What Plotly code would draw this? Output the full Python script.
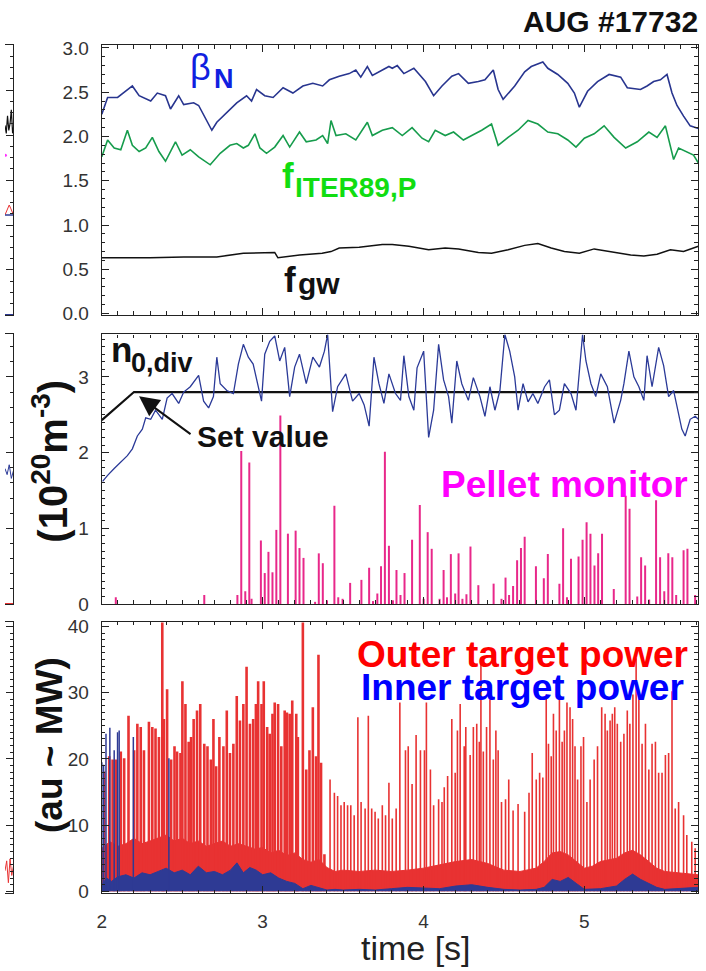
import plotly.graph_objects as go

W, H = 706, 971
FONT = "Liberation Sans, Arial, Helvetica, sans-serif"

# ---------------- Panel 1: beta_N, f_ITER89,P, f_gw ----------------
beta_t = [2.0, 2.036, 2.098, 2.19, 2.232, 2.304, 2.345, 2.396, 2.427, 2.478, 2.509, 2.571, 2.602, 2.633,
          2.684, 2.715, 2.777, 2.839, 2.9, 2.931, 2.962, 3.013, 3.065, 3.127, 3.188, 3.25, 3.312, 3.373,
          3.415, 3.476, 3.538, 3.579, 3.61, 3.651, 3.682, 3.744, 3.785, 3.806, 3.837, 3.878, 3.94, 4.012,
          4.063, 4.115, 4.176, 4.218, 4.279, 4.341, 4.382, 4.434, 4.464, 4.495, 4.567, 4.629, 4.67, 4.742,
          4.773, 4.835, 4.897, 4.938, 4.969, 5.02, 5.082, 5.154, 5.226, 5.267, 5.349, 5.39, 5.431, 5.473,
          5.514, 5.545, 5.576, 5.617, 5.658, 5.709]
beta_v = [2.25, 2.44, 2.44, 2.57, 2.46, 2.40, 2.49, 2.46, 2.31, 2.46, 2.36, 2.38, 2.35, 2.25,
          2.07, 2.16, 2.27, 2.38, 2.46, 2.40, 2.53, 2.46, 2.44, 2.55, 2.49, 2.57, 2.60, 2.57,
          2.64, 2.68, 2.71, 2.75, 2.67, 2.79, 2.69, 2.75, 2.79, 2.77, 2.80, 2.71, 2.77, 2.62,
          2.46, 2.57, 2.68, 2.71, 2.60, 2.62, 2.64, 2.75, 2.53, 2.42, 2.57, 2.73, 2.79, 2.84,
          2.77, 2.70, 2.60, 2.49, 2.33, 2.51, 2.62, 2.70, 2.67, 2.55, 2.53, 2.57, 2.62, 2.64,
          2.70, 2.49, 2.35, 2.23, 2.12, 2.09]

fiter_t = [2.0, 2.036, 2.077, 2.118, 2.159, 2.19, 2.232, 2.273, 2.314, 2.355, 2.396, 2.458, 2.499, 2.55,
           2.602, 2.674, 2.736, 2.797, 2.839, 2.88, 2.911, 2.952, 2.983, 3.024, 3.075, 3.127, 3.168,
           3.229, 3.271, 3.332, 3.373, 3.404, 3.425, 3.456, 3.517, 3.579, 3.651, 3.682, 3.744, 3.806,
           3.868, 3.929, 3.991, 4.032, 4.073, 4.135, 4.187, 4.248, 4.3, 4.362, 4.423, 4.464, 4.526,
           4.588, 4.65, 4.711, 4.773, 4.835, 4.897, 4.948, 5.0, 5.061, 5.123, 5.185, 5.257, 5.329,
           5.401, 5.452, 5.504, 5.555, 5.586, 5.637, 5.679, 5.709]
fiter_v = [1.77, 1.96, 1.87, 1.85, 2.07, 1.90, 1.83, 1.87, 1.99, 1.83, 1.72, 1.94, 1.79, 1.85,
           1.77, 1.68, 1.81, 1.90, 1.92, 1.87, 1.90, 2.03, 1.87, 1.81, 1.88, 2.01, 1.88,
           2.05, 1.94, 1.96, 2.01, 1.92, 2.18, 2.01, 2.03, 1.96, 2.16, 2.01, 2.07, 2.10,
           2.01, 2.10, 1.98, 1.94, 2.07, 2.01, 2.05, 1.96, 2.01, 2.07, 2.14, 1.90, 1.99,
           2.07, 2.18, 2.14, 2.05, 2.03, 1.96, 1.88, 1.98, 2.03, 2.12, 1.99, 1.87, 1.94,
           2.05, 1.99, 2.12, 1.74, 1.87, 1.83, 1.79, 1.70]

fgw_t = [2.0, 2.3, 2.51, 2.715, 2.88, 3.075, 3.095, 3.23, 3.37, 3.425, 3.476, 3.6, 3.744, 3.806, 3.909,
         4.032, 4.135, 4.218, 4.341, 4.423, 4.526, 4.629, 4.711, 4.794, 4.876, 4.969, 5.061, 5.164,
         5.288, 5.37, 5.452, 5.535, 5.617, 5.709]
fgw_v = [0.63, 0.63, 0.64, 0.64, 0.68, 0.69, 0.63, 0.66, 0.68, 0.70, 0.74, 0.75, 0.78, 0.78, 0.76,
         0.72, 0.74, 0.73, 0.69, 0.68, 0.72, 0.77, 0.79, 0.74, 0.70, 0.68, 0.73, 0.70,
         0.66, 0.65, 0.67, 0.72, 0.70, 0.76]

# ---------------- Panel 2: n0,div, set value, pellet monitor ----------------
n0_t = [2.005, 2.036, 2.077, 2.118, 2.159, 2.19, 2.221, 2.252, 2.273, 2.304, 2.334, 2.376, 2.406, 2.437,
        2.478, 2.509, 2.55, 2.602, 2.633, 2.664, 2.694, 2.715, 2.736, 2.777, 2.818, 2.849, 2.88, 2.911,
        2.941, 2.993, 3.013, 3.044, 3.075, 3.106, 3.137, 3.168, 3.199, 3.229, 3.271, 3.312, 3.353,
        3.384, 3.404, 3.425, 3.435, 3.466, 3.517, 3.559, 3.6, 3.631, 3.662, 3.692, 3.723, 3.754, 3.785,
        3.826, 3.857, 3.878, 3.909, 3.94, 3.96, 4.001, 4.032, 4.063, 4.094, 4.125, 4.156, 4.176, 4.207,
        4.238, 4.279, 4.31, 4.351, 4.382, 4.413, 4.444, 4.475, 4.506, 4.536, 4.567, 4.588, 4.619, 4.65,
        4.68, 4.711, 4.753, 4.783, 4.814, 4.845, 4.876, 4.917, 4.948, 4.979, 4.989, 5.01, 5.041, 5.071,
        5.102, 5.143, 5.185, 5.226, 5.246, 5.277, 5.308, 5.339, 5.37, 5.39, 5.421, 5.462, 5.493, 5.524,
        5.555, 5.576, 5.606, 5.627, 5.658, 5.689, 5.709]
n0_v = [1.62, 1.70, 1.79, 1.87, 1.96, 2.05, 2.22, 2.31, 2.46, 2.44, 2.56, 2.44, 2.72, 2.78,
        2.65, 2.80, 2.87, 3.02, 2.68, 2.59, 2.74, 3.26, 2.91, 2.82, 2.78, 3.17, 3.43, 3.26,
        3.17, 2.68, 3.30, 3.47, 3.54, 3.21, 3.39, 2.74, 3.13, 3.30, 2.91, 3.26, 3.13,
        3.34, 3.56, 2.87, 2.54, 2.87, 3.04, 2.68, 2.78, 2.63, 2.35, 3.26, 2.91, 2.65, 3.04,
        2.78, 2.69, 3.28, 2.74, 2.56, 3.12, 3.34, 2.20, 2.56, 3.43, 2.96, 2.74, 2.39, 3.21,
        2.91, 2.69, 2.99, 2.74, 2.48, 2.87, 2.56, 2.82, 3.56, 3.34, 3.00, 2.56, 2.91, 2.67,
        2.78, 2.65, 2.87, 2.96, 2.50, 2.56, 2.91, 2.78, 2.56, 3.39, 3.56, 3.21, 2.91, 2.74,
        3.04, 2.87, 2.39, 2.69, 2.91, 3.34, 3.00, 2.87, 2.69, 3.28, 2.87, 3.39, 3.15, 2.74,
        2.82, 2.61, 2.31, 2.22, 2.44, 2.48, 2.44]

set_t = [2.0, 2.2, 5.707]
set_v = [2.43, 2.80, 2.80]

pellet_t = [2.087, 2.637, 2.843, 2.867, 2.892, 2.917, 2.931, 2.989, 3.013, 3.036, 3.061, 3.085, 3.110,
            3.157, 3.205, 3.229, 3.254, 3.326, 3.349, 3.374, 3.400, 3.446, 3.470, 3.497, 3.544, 3.614,
            3.662, 3.686, 3.713, 3.736, 3.760, 3.785, 3.810, 3.832, 3.857, 3.882, 3.929, 3.977, 4.001,
            4.026, 4.051, 4.100, 4.125, 4.146, 4.170, 4.197, 4.218, 4.242, 4.267, 4.292, 4.341, 4.436,
            4.485, 4.510, 4.532, 4.557, 4.582, 4.606, 4.629, 4.699, 4.748, 4.773, 4.845, 4.868, 4.892,
            4.917, 4.964, 4.989, 5.014, 5.038, 5.063, 5.086, 5.110, 5.183, 5.257, 5.281, 5.329, 5.353,
            5.378, 5.403, 5.446, 5.471, 5.497, 5.522, 5.547, 5.571, 5.617, 5.641, 5.689]
pellet_v = [0.09, 0.12, 0.12, 2.02, 0.17, 1.87, 0.07, 0.84, 0.41, 0.69, 0.42, 0.98, 2.49,
            0.93, 0.97, 0.74, 0.61, 0.03, 0.67, 0.54, 0.05, 1.30, 0.09, 0.07, 0.28, 0.32,
            0.48, 0.04, 0.14, 0.50, 2.01, 0.77, 0.05, 0.45, 0.12, 0.41, 0.85, 1.31, 0.07,
            0.95, 0.73, 0.07, 0.45, 0.09, 0.66, 0.14, 0.67, 0.07, 0.13, 0.76, 0.25, 0.27,
            0.07, 0.35, 0.12, 0.24, 0.58, 0.74, 0.89, 0.50, 0.34, 0.66, 0.27, 1.00, 0.09,
            0.60, 0.63, 0.85, 1.08, 0.93, 0.51, 0.67, 0.93, 0.20, 1.43, 1.26, 0.10, 0.62,
            0.51, 0.06, 1.37, 0.62, 0.17, 0.67, 0.62, 0.12, 0.71, 0.73, 0.12]

# ---------------- Panel 3: target powers ----------------
outer_base_t = [2.0, 2.05, 2.1, 2.15, 2.2, 2.25, 2.3, 2.35, 2.4, 2.45, 2.5, 2.55, 2.6, 2.65, 2.7, 2.75,
                2.8, 2.85, 2.9, 2.95, 3.0, 3.05, 3.1, 3.15, 3.2, 3.25, 3.3, 3.35, 3.4, 3.45, 3.5, 3.6,
                3.7, 3.8, 3.9, 4.0, 4.1, 4.2, 4.3, 4.4, 4.5, 4.6, 4.7, 4.75, 4.8, 4.85, 4.9, 4.95, 5.0,
                5.05, 5.1, 5.2, 5.25, 5.3, 5.35, 5.4, 5.45, 5.5, 5.6, 5.707]
outer_base_v = [6.5, 7.5, 6.8, 7.2, 8.0, 7.2, 7.6, 8.0, 8.5, 7.6, 8.0, 7.2, 7.6, 6.8, 7.2, 7.6,
                6.8, 7.2, 6.8, 6.4, 6.6, 5.8, 6.2, 5.4, 5.8, 4.8, 4.4, 4.8, 3.6, 3.0, 3.2, 3.0,
                3.2, 3.0, 3.2, 3.5, 4.0, 4.5, 4.8, 4.2, 3.2, 3.0, 3.5, 4.5, 5.8, 6.0, 5.5, 4.5, 3.5,
                3.8, 4.5, 5.0, 5.8, 6.2, 5.5, 4.5, 3.5, 3.0, 2.8, 2.5]

# ELM spikes of the outer target power: dense phase (t < 3.4 s) and isolated phase
outer_dense_t = [2.015, 2.046, 2.067, 2.087, 2.118, 2.139, 2.166, 2.201, 2.221, 2.242, 2.262, 2.293, 2.314,
                 2.334, 2.355, 2.376, 2.386, 2.406, 2.431, 2.452, 2.468, 2.489, 2.501, 2.520, 2.540, 2.555,
                 2.571, 2.592, 2.612, 2.637, 2.657, 2.678, 2.694, 2.711, 2.731, 2.756, 2.777, 2.797, 2.818,
                 2.839, 2.859, 2.880, 2.900, 2.921, 2.941, 2.958, 2.972, 2.993, 3.007, 3.028, 3.044, 3.061,
                 3.075, 3.096, 3.116, 3.137, 3.151, 3.168, 3.184, 3.209, 3.219, 3.250, 3.271, 3.291, 3.312,
                 3.332, 3.347, 3.363, 3.384]
outer_dense_v = [18.1, 20.4, 19.9, 19.9, 21.1, 20.1, 26.5, 21.3, 25.3, 24.8, 21.3, 25.6, 24.8,
                 24.6, 23.3, 40.6, 26.0, 30.5, 19.9, 21.9, 21.1, 20.9, 31.7, 28.3, 22.6, 23.3,
                 26.0, 27.3, 28.3, 22.3, 21.9, 19.9, 26.0, 18.9, 23.3, 21.9, 27.3, 20.9, 22.3,
                 29.5, 25.8, 28.3, 33.9, 25.3, 26.0, 28.3, 31.7, 28.3, 31.7, 24.8, 23.8, 26.8,
                 28.5, 28.3, 21.9, 27.3, 27.0, 26.8, 28.8, 26.8, 23.3, 40.6, 18.4, 21.3, 27.8,
                 20.4, 35.7, 19.4, 5.6]
outer_spike_t = [3.419, 3.446, 3.466, 3.487, 3.507, 3.528, 3.548, 3.569, 3.592,
                 3.612, 3.637, 3.657, 3.678, 3.699, 3.719, 3.744, 3.764, 3.785, 3.806, 3.830, 3.853, 3.888,
                 3.905, 3.929, 3.954, 3.981, 4.006, 4.018, 4.043, 4.063, 4.094, 4.115, 4.129, 4.150, 4.176,
                 4.197, 4.211, 4.228, 4.253, 4.263, 4.290, 4.310, 4.331, 4.347, 4.357, 4.372, 4.392, 4.413,
                 4.434, 4.450, 4.464, 4.485, 4.510, 4.530, 4.557, 4.588, 4.629, 4.656, 4.676, 4.701, 4.722,
                 4.742, 4.763, 4.777, 4.794, 4.808, 4.825, 4.845, 4.862, 4.876, 4.892, 4.911, 4.927, 4.942,
                 4.958, 4.979, 4.995, 5.016, 5.036, 5.061, 5.082, 5.108, 5.129, 5.143, 5.160, 5.174, 5.189,
                 5.205, 5.226, 5.246, 5.267, 5.283, 5.302, 5.322, 5.339, 5.359, 5.380, 5.401, 5.421, 5.442,
                 5.462, 5.483, 5.504, 5.524, 5.545, 5.565, 5.586, 5.617, 5.637, 5.668, 5.689]
outer_spike_v = [16.9, 14.9, 14.4, 13.0, 13.5, 13.0, 13.0, 11.5, 26.3,
                 13.5, 12.5, 26.5, 12.5, 12.0, 11.0, 13.0, 11.5, 16.4, 11.0, 12.5, 28.5, 21.3,
                 21.9, 16.2, 23.6, 21.3, 21.3, 28.5, 18.4, 13.0, 13.9, 13.5, 15.7, 17.4, 26.0,
                 17.9, 24.3, 28.3, 21.9, 24.8, 20.6, 24.8, 25.3, 22.6, 35.2, 21.1, 24.8, 29.0,
                 19.9, 24.3, 21.3, 13.5, 13.9, 16.9, 12.2, 13.2, 12.0, 14.9, 20.9, 16.9, 17.9,
                 17.2, 29.7, 22.3, 20.4, 26.8, 24.3, 29.7, 22.6, 24.3, 28.5, 27.8, 26.0, 21.9,
                 16.9, 21.9, 23.3, 13.5, 16.9, 19.9, 21.9, 27.8, 26.8, 24.3, 25.8, 26.8, 27.8,
                 25.3, 22.6, 23.8, 27.3, 25.3, 29.7, 35.2, 29.7, 22.3, 25.3, 18.4, 22.3, 22.6,
                 17.9, 17.9, 20.6, 20.9, 30.2, 12.5, 13.5, 11.5, 8.5, 7.5, 6.5]

inner_base_t = [2.0, 2.03, 2.06, 2.1, 2.15, 2.2, 2.25, 2.3, 2.35, 2.4, 2.45, 2.5, 2.55, 2.6, 2.65, 2.7,
                2.75, 2.8, 2.84, 2.88, 2.92, 2.96, 3.0, 3.05, 3.1, 3.15, 3.2, 3.25, 3.3, 3.35, 3.4, 3.45,
                3.5, 3.6, 3.7, 3.8, 3.9, 4.0, 4.1, 4.2, 4.3, 4.4, 4.5, 4.6, 4.7, 4.75, 4.8, 4.85, 4.9,
                4.95, 5.0, 5.1, 5.2, 5.25, 5.3, 5.35, 5.4, 5.45, 5.5, 5.6, 5.707]
inner_base_v = [1.0, 2.0, 1.5, 2.2, 2.5, 2.0, 2.8, 2.5, 3.0, 3.5, 2.8, 3.2, 2.5, 3.8, 2.8, 3.0,
                2.5, 3.2, 4.3, 2.8, 3.6, 3.2, 2.5, 2.8, 2.0, 1.5, 1.2, 0.4, 0.9, 0.5, 0.2, 0.3,
                0.2, 0.3, 0.2, 0.4, 0.6, 0.5, 0.4, 0.8, 1.0, 0.6, 0.3, 0.2, 0.3, 0.6, 1.8, 1.5, 2.1,
                1.2, 0.3, 0.4, 0.8, 1.8, 2.6, 1.8, 1.2, 0.6, 0.3, 0.4, 0.6]

inner_spike_t = [2.0, 2.011, 2.026, 2.05, 2.077, 2.098, 2.108, 2.196, 2.417]
inner_spike_v = [19.5, 19.1, 23.8, 24.7, 21.3, 24.0, 24.3, 23.3, 20.1]

# ---------------- left-hand fragments of the neighbouring column ----------------
frag1_x = [0.0, 0.15, 0.3, 0.45, 0.6, 0.75, 0.9, 1.0]
frag1_black = [8.43, 8.08, 8.86, 8.21, 8.52, 9.13, 8.08, 8.34]
frag1_hx = [0.0, 0.3, 0.5, 0.7, 1.0]
frag1_red = [4.45, 4.76, 4.89, 4.72, 4.45]
frag1_blue = [4.45, 4.45, 4.45, 4.45, 4.45]
frag2_x = [0.0, 0.25, 0.5, 0.75, 1.0]
frag2_blue = [1.79, 1.71, 1.84, 1.66, 1.76]
frag3_x = [0.0, 0.2, 0.4, 0.6, 0.8, 1.0]
frag3_red = [3.1, 4.6, 1.3, 4.9, 2.4, 3.8]


def stems(ts, hs):
    xs, ys = [], []
    for t, h in zip(ts, hs):
        xs += [t, t, None]
        ys += [0, h, None]
    return xs, ys


fig = go.Figure()

# panel 1
fig.add_trace(go.Scatter(x=fgw_t, y=fgw_v, mode="lines", line=dict(color="#111111", width=1.5),
                         xaxis="x", yaxis="y"))
fig.add_trace(go.Scatter(x=fiter_t, y=fiter_v, mode="lines", line=dict(color="#169c4c", width=1.6),
                         xaxis="x", yaxis="y"))
fig.add_trace(go.Scatter(x=beta_t, y=beta_v, mode="lines", line=dict(color="#28358f", width=1.6),
                         xaxis="x", yaxis="y"))

# panel 2
px, py = stems(pellet_t, pellet_v)
fig.add_trace(go.Scatter(x=px, y=py, mode="lines", line=dict(color="#e8288a", width=2),
                         xaxis="x2", yaxis="y2"))
fig.add_trace(go.Scatter(x=set_t, y=set_v, mode="lines", line=dict(color="#111111", width=2.2),
                         xaxis="x2", yaxis="y2"))
fig.add_trace(go.Scatter(x=n0_t, y=n0_v, mode="lines", line=dict(color="#2b3a98", width=1.3),
                         xaxis="x2", yaxis="y2"))

# panel 3
fig.add_trace(go.Scatter(x=outer_base_t, y=outer_base_v, mode="lines", fill="tozeroy",
                         fillcolor="#e83232", line=dict(color="#e83232", width=1),
                         xaxis="x3", yaxis="y3"))
dx, dy = stems(outer_dense_t, outer_dense_v)
fig.add_trace(go.Scatter(x=dx, y=dy, mode="lines", line=dict(color="#e83232", width=2.6),
                         xaxis="x3", yaxis="y3"))
sx, sy = stems(outer_spike_t, outer_spike_v)
fig.add_trace(go.Scatter(x=sx, y=sy, mode="lines", line=dict(color="#e83232", width=1.6),
                         xaxis="x3", yaxis="y3"))
fig.add_trace(go.Scatter(x=inner_base_t, y=inner_base_v, mode="lines", fill="tozeroy",
                         fillcolor="#2e3a94", line=dict(color="#2e3a94", width=1),
                         xaxis="x3", yaxis="y3"))
ix, iy = stems(inner_spike_t, inner_spike_v)
fig.add_trace(go.Scatter(x=ix, y=iy, mode="lines", line=dict(color="#2e3a94", width=1.5),
                         xaxis="x3", yaxis="y3"))

# fragments
fig.add_trace(go.Scatter(x=frag1_x, y=frag1_black, mode="lines", line=dict(color="#111", width=1.2),
                         xaxis="x4", yaxis="y4"))
fig.add_trace(go.Scatter(x=frag1_hx, y=frag1_red, mode="lines", line=dict(color="#e83232", width=1),
                         xaxis="x4", yaxis="y4"))
fig.add_trace(go.Scatter(x=frag1_hx, y=frag1_blue, mode="lines", line=dict(color="#2e3a94", width=1.5),
                         xaxis="x4", yaxis="y4"))
fig.add_trace(go.Scatter(x=[0.0, 1.0], y=[0.0, 0.0], mode="lines", line=dict(color="#2e3a94", width=2),
                         xaxis="x4", yaxis="y4"))
fig.add_trace(go.Scatter(x=[0.05], y=[7.1], mode="markers", marker=dict(color="#ff33ff", size=3),
                         xaxis="x4", yaxis="y4"))
fig.add_trace(go.Scatter(x=frag2_x, y=frag2_blue, mode="lines", line=dict(color="#2b3a98", width=1),
                         xaxis="x5", yaxis="y5"))
fig.add_trace(go.Scatter(x=[0.0, 1.0], y=[0.0, 0.0], mode="lines", line=dict(color="#e83232", width=2),
                         xaxis="x5", yaxis="y5"))
fig.add_trace(go.Scatter(x=frag3_x, y=frag3_red, mode="lines", line=dict(color="#e83232", width=1),
                         xaxis="x6", yaxis="y6"))

AX = "#222222"
TICKFONT = dict(family=FONT, size=19, color="#333333")


def xdom(a, b):
    return [a / W, b / W]


def ydom(top, bottom):
    return [1 - bottom / H, 1 - top / H]


def xaxis_main(anchor, labels):
    return dict(domain=xdom(97.5, 698), range=[2, 5.707], anchor=anchor,
                showline=True, linecolor=AX, linewidth=1.3, mirror="allticks",
                ticks="inside", ticklen=7, tickwidth=1.2, tickcolor=AX,
                tick0=2, dtick=1, showticklabels=labels, tickfont=TICKFONT, ticklabelstandoff=11,
                minor=dict(dtick=0.1, ticks="inside", ticklen=3.5, tickwidth=1, tickcolor=AX),
                showgrid=False, zeroline=False, fixedrange=True)


def yaxis_main(anchor, dom, rng, dtick, mdt, fmt=None):
    d = dict(domain=dom, range=rng, anchor=anchor,
             showline=True, linecolor=AX, linewidth=1.3, mirror="allticks",
             ticks="inside", ticklen=7, tickwidth=1.2, tickcolor=AX,
             tick0=0, dtick=dtick, tickfont=TICKFONT, ticklabelstandoff=8,
             minor=dict(dtick=mdt, ticks="inside", ticklen=3.5, tickwidth=1, tickcolor=AX),
             showgrid=False, zeroline=False, fixedrange=True)
    if fmt:
        d["tickformat"] = fmt
    return d


def xaxis_frag(anchor):
    return dict(domain=xdom(0, 8.5), range=[0, 1], anchor=anchor, showline=True, linecolor=AX,
                linewidth=1.3, mirror=True, ticks="", showticklabels=False, showgrid=False,
                zeroline=False, fixedrange=True)


def yaxis_frag(anchor, dom, rng, dtick, mdt):
    return dict(domain=dom, range=rng, anchor=anchor, side="right", showline=True, linecolor=AX,
                linewidth=1.3, mirror=False, ticks="inside", ticklen=7, tickwidth=1.2, tickcolor=AX,
                tick0=0, dtick=dtick, showticklabels=False,
                minor=dict(dtick=mdt, ticks="inside", ticklen=3.5, tickwidth=1, tickcolor=AX),
                showgrid=False, zeroline=False, fixedrange=True)


D1 = ydom(38, 313)
D2 = ydom(333, 608)
D3 = ydom(626, 903)

fig.update_layout(
    width=W, height=H, margin=dict(l=0, r=0, t=0, b=0),
    paper_bgcolor="white", plot_bgcolor="white", showlegend=False,
    font=dict(family=FONT, color="#111"),
    xaxis=xaxis_main("y", False),
    yaxis=yaxis_main("x", D1, [-0.015, 3.03], 0.5, 0.1, ".1f"),
    xaxis2=xaxis_main("y2", False),
    yaxis2=yaxis_main("x2", D2, [0, 3.56], 1, 0.1),
    xaxis3=xaxis_main("y3", True),
    yaxis3=yaxis_main("x3", D3, [-0.3, 40.7], 10, 1),
    xaxis4=xaxis_frag("y4"),
    yaxis4=yaxis_frag("x4", D1, [0, 12], 2, 0.5),
    xaxis5=xaxis_frag("y5"),
    yaxis5=yaxis_frag("x5", D2, [0, 3.56], 1, 0.2),
    xaxis6=xaxis_frag("y6"),
    yaxis6=yaxis_frag("x6", D3, [-0.3, 40.7], 10, 1),
)


def label(text, x, y, size, color="#111", xanchor="left", yanchor="middle", angle=0):
    fig.add_annotation(text=text, x=x / W, y=1 - y / H, xref="paper", yref="paper",
                       xanchor=xanchor, yanchor=yanchor, showarrow=False, textangle=angle,
                       font=dict(family=FONT, size=size, color=color), borderpad=0)


label("<b>AUG #17732</b>", 699, 14, 30, "#111", xanchor="right")
# beta_N
label("\u03b2", 185, 61, 36, "#1020e0")
label("<b>N</b>", 209, 72, 27, "#1020e0")
# f_ITER89,P
label("<b>f</b>", 278, 171, 35, "#11dd11")
label("<b>ITER89,P</b>", 291, 183, 28, "#11dd11")
# f_gw
label("<b>f</b>", 280, 277, 35, "#111")
label("<b>gw</b>", 294, 281, 30, "#111")
# n_0,div
label("<b>n</b>", 106, 348, 35, "#111")
label("<b>0,div</b>", 126, 362, 27, "#111")
# set value
label("<b>Set value</b>", 192, 437, 30, "#111")
fig.add_annotation(text="", x=135 / W, y=1 - 396 / H, xref="paper", yref="paper",
                   ax=53, ay=39, showarrow=True, arrowhead=2, arrowsize=2.0, arrowwidth=2,
                   arrowcolor="#111")
label("<b>Pellet monitor</b>", 689, 486, 37, "#ff00ff", xanchor="right")
label("<b>Outer target power</b>", 689, 659, 37, "#ff0000", xanchor="right")
label("<b>Inner target power</b>", 685, 693, 37, "#0000ff", xanchor="right")
label("time [s]", 414, 959, 34, "#222", xanchor="center")
label("<b>(10<sup>20</sup>m<sup>-3</sup>)</b>", 45, 462, 40, "#111", xanchor="center", angle=-90)
label("<b>(au ~ MW)</b>", 45, 752, 37, "#111", xanchor="center", angle=-90)

fig.write_html("out.html", config={"displayModeBar": False},
               post_script="document.body.style.margin='0';document.body.style.padding='0';document.body.style.overflow='hidden';")
